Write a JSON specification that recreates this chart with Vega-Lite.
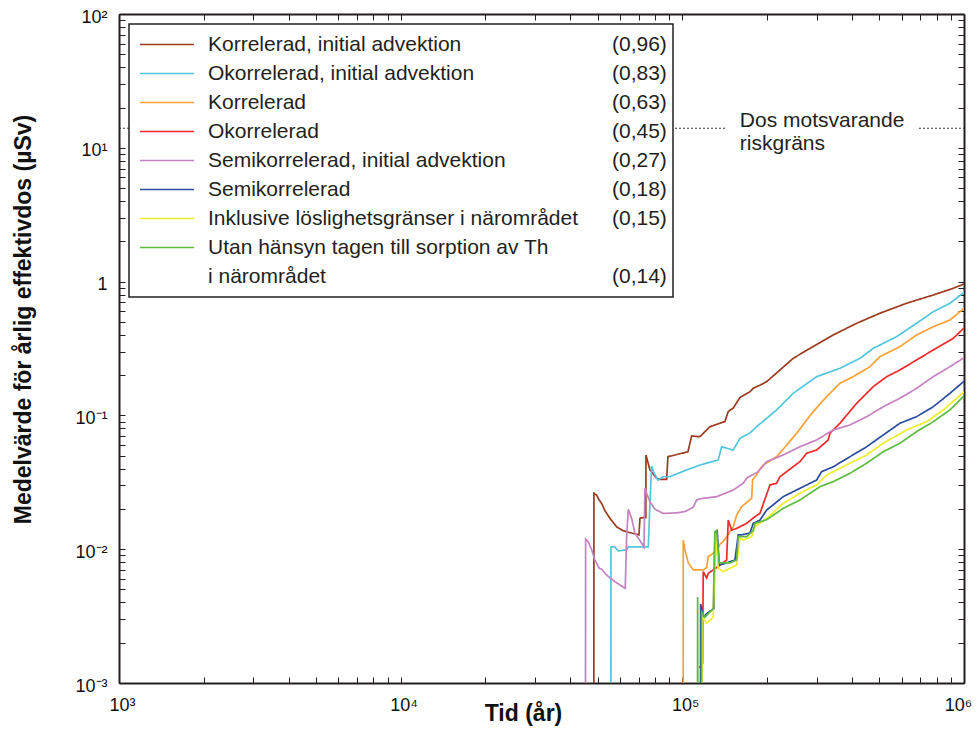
{
  "$schema": "https://vega.github.io/schema/vega-lite/v6.json",
  "width": 845,
  "height": 669,
  "autosize": {"type": "none"},
  "padding": {"left": 119, "top": 14, "right": 16, "bottom": 73},
  "background": "white",
  "config": {"view": {"stroke": null}, "font": "Liberation Sans"},
  "datasets": {
    "doses": [
      {"series": "Korrelerad, initial advektion", "peak": "(0,96)", "t": 48500, "dose": 0.0005},
      {"series": "Korrelerad, initial advektion", "peak": "(0,96)", "t": 48550, "dose": 0.0266},
      {"series": "Korrelerad, initial advektion", "peak": "(0,96)", "t": 48700, "dose": 0.0259},
      {"series": "Korrelerad, initial advektion", "peak": "(0,96)", "t": 49620, "dose": 0.0254},
      {"series": "Korrelerad, initial advektion", "peak": "(0,96)", "t": 50700, "dose": 0.0233},
      {"series": "Korrelerad, initial advektion", "peak": "(0,96)", "t": 51700, "dose": 0.022},
      {"series": "Korrelerad, initial advektion", "peak": "(0,96)", "t": 53110, "dose": 0.0194},
      {"series": "Korrelerad, initial advektion", "peak": "(0,96)", "t": 55340, "dose": 0.017},
      {"series": "Korrelerad, initial advektion", "peak": "(0,96)", "t": 58460, "dose": 0.0147},
      {"series": "Korrelerad, initial advektion", "peak": "(0,96)", "t": 61690, "dose": 0.01375},
      {"series": "Korrelerad, initial advektion", "peak": "(0,96)", "t": 65170, "dose": 0.0133},
      {"series": "Korrelerad, initial advektion", "peak": "(0,96)", "t": 70140, "dose": 0.0128},
      {"series": "Korrelerad, initial advektion", "peak": "(0,96)", "t": 70720, "dose": 0.017},
      {"series": "Korrelerad, initial advektion", "peak": "(0,96)", "t": 72300, "dose": 0.0172},
      {"series": "Korrelerad, initial advektion", "peak": "(0,96)", "t": 74200, "dose": 0.0172},
      {"series": "Korrelerad, initial advektion", "peak": "(0,96)", "t": 74290, "dose": 0.0506},
      {"series": "Korrelerad, initial advektion", "peak": "(0,96)", "t": 76740, "dose": 0.0391},
      {"series": "Korrelerad, initial advektion", "peak": "(0,96)", "t": 81070, "dose": 0.0339},
      {"series": "Korrelerad, initial advektion", "peak": "(0,96)", "t": 83280, "dose": 0.0333},
      {"series": "Korrelerad, initial advektion", "peak": "(0,96)", "t": 87960, "dose": 0.0333},
      {"series": "Korrelerad, initial advektion", "peak": "(0,96)", "t": 88900, "dose": 0.0491},
      {"series": "Korrelerad, initial advektion", "peak": "(0,96)", "t": 94130, "dose": 0.0506},
      {"series": "Korrelerad, initial advektion", "peak": "(0,96)", "t": 104690, "dose": 0.0535},
      {"series": "Korrelerad, initial advektion", "peak": "(0,96)", "t": 107900, "dose": 0.0702},
      {"series": "Korrelerad, initial advektion", "peak": "(0,96)", "t": 115470, "dose": 0.0693},
      {"series": "Korrelerad, initial advektion", "peak": "(0,96)", "t": 121980, "dose": 0.0778},
      {"series": "Korrelerad, initial advektion", "peak": "(0,96)", "t": 125310, "dose": 0.0823},
      {"series": "Korrelerad, initial advektion", "peak": "(0,96)", "t": 141640, "dose": 0.09},
      {"series": "Korrelerad, initial advektion", "peak": "(0,96)", "t": 145550, "dose": 0.107},
      {"series": "Korrelerad, initial advektion", "peak": "(0,96)", "t": 151600, "dose": 0.1135},
      {"series": "Korrelerad, initial advektion", "peak": "(0,96)", "t": 160150, "dose": 0.136},
      {"series": "Korrelerad, initial advektion", "peak": "(0,96)", "t": 173780, "dose": 0.15},
      {"series": "Korrelerad, initial advektion", "peak": "(0,96)", "t": 178520, "dose": 0.1594},
      {"series": "Korrelerad, initial advektion", "peak": "(0,96)", "t": 188590, "dose": 0.1683},
      {"series": "Korrelerad, initial advektion", "peak": "(0,96)", "t": 199210, "dose": 0.1786},
      {"series": "Korrelerad, initial advektion", "peak": "(0,96)", "t": 222070, "dose": 0.2184},
      {"series": "Korrelerad, initial advektion", "peak": "(0,96)", "t": 247560, "dose": 0.267},
      {"series": "Korrelerad, initial advektion", "peak": "(0,96)", "t": 283790, "dose": 0.317},
      {"series": "Korrelerad, initial advektion", "peak": "(0,96)", "t": 343330, "dose": 0.399},
      {"series": "Korrelerad, initial advektion", "peak": "(0,96)", "t": 415730, "dose": 0.488},
      {"series": "Korrelerad, initial advektion", "peak": "(0,96)", "t": 502920, "dose": 0.58},
      {"series": "Korrelerad, initial advektion", "peak": "(0,96)", "t": 625360, "dose": 0.689},
      {"series": "Korrelerad, initial advektion", "peak": "(0,96)", "t": 777600, "dose": 0.794},
      {"series": "Korrelerad, initial advektion", "peak": "(0,96)", "t": 915900, "dose": 0.891},
      {"series": "Korrelerad, initial advektion", "peak": "(0,96)", "t": 1000000, "dose": 0.96},

      {"series": "Okorrelerad, initial advektion", "peak": "(0,83)", "t": 55750, "dose": 0.0005},
      {"series": "Okorrelerad, initial advektion", "peak": "(0,83)", "t": 55800, "dose": 0.0104},
      {"series": "Okorrelerad, initial advektion", "peak": "(0,83)", "t": 57650, "dose": 0.0104},
      {"series": "Okorrelerad, initial advektion", "peak": "(0,83)", "t": 59230, "dose": 0.0097},
      {"series": "Okorrelerad, initial advektion", "peak": "(0,83)", "t": 63430, "dose": 0.0099},
      {"series": "Okorrelerad, initial advektion", "peak": "(0,83)", "t": 64270, "dose": 0.0104},
      {"series": "Okorrelerad, initial advektion", "peak": "(0,83)", "t": 75700, "dose": 0.0104},
      {"series": "Okorrelerad, initial advektion", "peak": "(0,83)", "t": 76740, "dose": 0.0221},
      {"series": "Okorrelerad, initial advektion", "peak": "(0,83)", "t": 77810, "dose": 0.0419},
      {"series": "Okorrelerad, initial advektion", "peak": "(0,83)", "t": 79300, "dose": 0.0371},
      {"series": "Okorrelerad, initial advektion", "peak": "(0,83)", "t": 81930, "dose": 0.0329},
      {"series": "Okorrelerad, initial advektion", "peak": "(0,83)", "t": 85550, "dose": 0.0348},
      {"series": "Okorrelerad, initial advektion", "peak": "(0,83)", "t": 90360, "dose": 0.0348},
      {"series": "Okorrelerad, initial advektion", "peak": "(0,83)", "t": 103580, "dose": 0.0391},
      {"series": "Okorrelerad, initial advektion", "peak": "(0,83)", "t": 115470, "dose": 0.0426},
      {"series": "Okorrelerad, initial advektion", "peak": "(0,83)", "t": 134110, "dose": 0.0464},
      {"series": "Okorrelerad, initial advektion", "peak": "(0,83)", "t": 137880, "dose": 0.0583},
      {"series": "Okorrelerad, initial advektion", "peak": "(0,83)", "t": 151600, "dose": 0.0551},
      {"series": "Okorrelerad, initial advektion", "peak": "(0,83)", "t": 160150, "dose": 0.0674},
      {"series": "Okorrelerad, initial advektion", "peak": "(0,83)", "t": 173780, "dose": 0.0739},
      {"series": "Okorrelerad, initial advektion", "peak": "(0,83)", "t": 183570, "dose": 0.0823},
      {"series": "Okorrelerad, initial advektion", "peak": "(0,83)", "t": 216130, "dose": 0.1098},
      {"series": "Okorrelerad, initial advektion", "peak": "(0,83)", "t": 247560, "dose": 0.1462},
      {"series": "Okorrelerad, initial advektion", "peak": "(0,83)", "t": 299770, "dose": 0.1947},
      {"series": "Okorrelerad, initial advektion", "peak": "(0,83)", "t": 362650, "dose": 0.2249},
      {"series": "Okorrelerad, initial advektion", "peak": "(0,83)", "t": 427080, "dose": 0.267},
      {"series": "Okorrelerad, initial advektion", "peak": "(0,83)", "t": 476100, "dose": 0.317},
      {"series": "Okorrelerad, initial advektion", "peak": "(0,83)", "t": 576250, "dose": 0.3873},
      {"series": "Okorrelerad, initial advektion", "peak": "(0,83)", "t": 678740, "dose": 0.488},
      {"series": "Okorrelerad, initial advektion", "peak": "(0,83)", "t": 777600, "dose": 0.5957},
      {"series": "Okorrelerad, initial advektion", "peak": "(0,83)", "t": 891300, "dose": 0.689},
      {"series": "Okorrelerad, initial advektion", "peak": "(0,83)", "t": 1000000, "dose": 0.83},

      {"series": "Korrelerad", "peak": "(0,63)", "t": 100700, "dose": 0.0005},
      {"series": "Korrelerad", "peak": "(0,63)", "t": 100740, "dose": 0.0117},
      {"series": "Korrelerad", "peak": "(0,63)", "t": 102140, "dose": 0.0099},
      {"series": "Korrelerad", "peak": "(0,63)", "t": 104950, "dose": 0.0079},
      {"series": "Korrelerad", "peak": "(0,63)", "t": 109320, "dose": 0.007},
      {"series": "Korrelerad", "peak": "(0,63)", "t": 118630, "dose": 0.007},
      {"series": "Korrelerad", "peak": "(0,63)", "t": 121980, "dose": 0.0073},
      {"series": "Korrelerad", "peak": "(0,63)", "t": 123590, "dose": 0.0088},
      {"series": "Korrelerad", "peak": "(0,63)", "t": 128730, "dose": 0.0093},
      {"series": "Korrelerad", "peak": "(0,63)", "t": 134110, "dose": 0.0102},
      {"series": "Korrelerad", "peak": "(0,63)", "t": 135990, "dose": 0.0109},
      {"series": "Korrelerad", "peak": "(0,63)", "t": 139700, "dose": 0.0114},
      {"series": "Korrelerad", "peak": "(0,63)", "t": 143650, "dose": 0.0124},
      {"series": "Korrelerad", "peak": "(0,63)", "t": 147570, "dose": 0.0135},
      {"series": "Korrelerad", "peak": "(0,63)", "t": 151600, "dose": 0.0147},
      {"series": "Korrelerad", "peak": "(0,63)", "t": 155890, "dose": 0.018},
      {"series": "Korrelerad", "peak": "(0,63)", "t": 162390, "dose": 0.0208},
      {"series": "Korrelerad", "peak": "(0,63)", "t": 176200, "dose": 0.024},
      {"series": "Korrelerad", "peak": "(0,63)", "t": 177660, "dose": 0.033},
      {"series": "Korrelerad", "peak": "(0,63)", "t": 183570, "dose": 0.036},
      {"series": "Korrelerad", "peak": "(0,63)", "t": 187500, "dose": 0.0391},
      {"series": "Korrelerad", "peak": "(0,63)", "t": 193740, "dose": 0.0426},
      {"series": "Korrelerad", "peak": "(0,63)", "t": 216130, "dose": 0.0491},
      {"series": "Korrelerad", "peak": "(0,63)", "t": 237640, "dose": 0.0619},
      {"series": "Korrelerad", "peak": "(0,63)", "t": 254550, "dose": 0.0735},
      {"series": "Korrelerad", "peak": "(0,63)", "t": 276250, "dose": 0.0924},
      {"series": "Korrelerad", "peak": "(0,63)", "t": 291530, "dose": 0.1066},
      {"series": "Korrelerad", "peak": "(0,63)", "t": 325300, "dose": 0.138},
      {"series": "Korrelerad", "peak": "(0,63)", "t": 362650, "dose": 0.1738},
      {"series": "Korrelerad", "peak": "(0,63)", "t": 404300, "dose": 0.1947},
      {"series": "Korrelerad", "peak": "(0,63)", "t": 463450, "dose": 0.2312},
      {"series": "Korrelerad", "peak": "(0,63)", "t": 502920, "dose": 0.2746},
      {"series": "Korrelerad", "peak": "(0,63)", "t": 591980, "dose": 0.3263},
      {"series": "Korrelerad", "peak": "(0,63)", "t": 678740, "dose": 0.399},
      {"series": "Korrelerad", "peak": "(0,63)", "t": 777600, "dose": 0.4602},
      {"series": "Korrelerad", "peak": "(0,63)", "t": 891300, "dose": 0.5164},
      {"series": "Korrelerad", "peak": "(0,63)", "t": 1000000, "dose": 0.63},

      {"series": "Okorrelerad", "peak": "(0,45)", "t": 115000, "dose": 0.0013},
      {"series": "Okorrelerad", "peak": "(0,45)", "t": 118000, "dose": 0.0014},
      {"series": "Okorrelerad", "peak": "(0,45)", "t": 118630, "dose": 0.0068},
      {"series": "Okorrelerad", "peak": "(0,45)", "t": 121980, "dose": 0.0061},
      {"series": "Okorrelerad", "peak": "(0,45)", "t": 123590, "dose": 0.0066},
      {"series": "Okorrelerad", "peak": "(0,45)", "t": 128730, "dose": 0.007},
      {"series": "Okorrelerad", "peak": "(0,45)", "t": 135990, "dose": 0.0076},
      {"series": "Okorrelerad", "peak": "(0,45)", "t": 143650, "dose": 0.0083},
      {"series": "Okorrelerad", "peak": "(0,45)", "t": 145550, "dose": 0.0165},
      {"series": "Okorrelerad", "peak": "(0,45)", "t": 149620, "dose": 0.0139},
      {"series": "Okorrelerad", "peak": "(0,45)", "t": 155890, "dose": 0.0143},
      {"series": "Okorrelerad", "peak": "(0,45)", "t": 169190, "dose": 0.0156},
      {"series": "Okorrelerad", "peak": "(0,45)", "t": 181020, "dose": 0.0175},
      {"series": "Okorrelerad", "peak": "(0,45)", "t": 188590, "dose": 0.0185},
      {"series": "Okorrelerad", "peak": "(0,45)", "t": 204650, "dose": 0.0302},
      {"series": "Okorrelerad", "peak": "(0,45)", "t": 216130, "dose": 0.0311},
      {"series": "Okorrelerad", "peak": "(0,45)", "t": 222070, "dose": 0.0348},
      {"series": "Okorrelerad", "peak": "(0,45)", "t": 261500, "dose": 0.0451},
      {"series": "Okorrelerad", "peak": "(0,45)", "t": 276250, "dose": 0.0521},
      {"series": "Okorrelerad", "peak": "(0,45)", "t": 299770, "dose": 0.0551},
      {"series": "Okorrelerad", "peak": "(0,45)", "t": 329530, "dose": 0.0655},
      {"series": "Okorrelerad", "peak": "(0,45)", "t": 334200, "dose": 0.0735},
      {"series": "Okorrelerad", "peak": "(0,45)", "t": 362650, "dose": 0.0873},
      {"series": "Okorrelerad", "peak": "(0,45)", "t": 415730, "dose": 0.1231},
      {"series": "Okorrelerad", "peak": "(0,45)", "t": 476100, "dose": 0.1639},
      {"series": "Okorrelerad", "peak": "(0,45)", "t": 531170, "dose": 0.1947},
      {"series": "Okorrelerad", "peak": "(0,45)", "t": 591980, "dose": 0.2184},
      {"series": "Okorrelerad", "peak": "(0,45)", "t": 678740, "dose": 0.2595},
      {"series": "Okorrelerad", "peak": "(0,45)", "t": 777600, "dose": 0.3083},
      {"series": "Okorrelerad", "peak": "(0,45)", "t": 915900, "dose": 0.3769},
      {"series": "Okorrelerad", "peak": "(0,45)", "t": 1000000, "dose": 0.45},

      {"series": "Semikorrelerad, initial advektion", "peak": "(0,27)", "t": 45300, "dose": 0.0005},
      {"series": "Semikorrelerad, initial advektion", "peak": "(0,27)", "t": 45360, "dose": 0.0119},
      {"series": "Semikorrelerad, initial advektion", "peak": "(0,27)", "t": 46340, "dose": 0.0114},
      {"series": "Semikorrelerad, initial advektion", "peak": "(0,27)", "t": 47640, "dose": 0.0099},
      {"series": "Semikorrelerad, initial advektion", "peak": "(0,27)", "t": 48940, "dose": 0.0083},
      {"series": "Semikorrelerad, initial advektion", "peak": "(0,27)", "t": 50700, "dose": 0.0072},
      {"series": "Semikorrelerad, initial advektion", "peak": "(0,27)", "t": 51700, "dose": 0.0071},
      {"series": "Semikorrelerad, initial advektion", "peak": "(0,27)", "t": 53110, "dose": 0.0066},
      {"series": "Semikorrelerad, initial advektion", "peak": "(0,27)", "t": 55340, "dose": 0.0061},
      {"series": "Semikorrelerad, initial advektion", "peak": "(0,27)", "t": 58460, "dose": 0.0056},
      {"series": "Semikorrelerad, initial advektion", "peak": "(0,27)", "t": 62700, "dose": 0.0051},
      {"series": "Semikorrelerad, initial advektion", "peak": "(0,27)", "t": 63430, "dose": 0.0124},
      {"series": "Semikorrelerad, initial advektion", "peak": "(0,27)", "t": 64270, "dose": 0.0199},
      {"series": "Semikorrelerad, initial advektion", "peak": "(0,27)", "t": 66070, "dose": 0.017},
      {"series": "Semikorrelerad, initial advektion", "peak": "(0,27)", "t": 67870, "dose": 0.0132},
      {"series": "Semikorrelerad, initial advektion", "peak": "(0,27)", "t": 71710, "dose": 0.0111},
      {"series": "Semikorrelerad, initial advektion", "peak": "(0,27)", "t": 73080, "dose": 0.0104},
      {"series": "Semikorrelerad, initial advektion", "peak": "(0,27)", "t": 73680, "dose": 0.0285},
      {"series": "Semikorrelerad, initial advektion", "peak": "(0,27)", "t": 75080, "dose": 0.0254},
      {"series": "Semikorrelerad, initial advektion", "peak": "(0,27)", "t": 76740, "dose": 0.0226},
      {"series": "Semikorrelerad, initial advektion", "peak": "(0,27)", "t": 79940, "dose": 0.0199},
      {"series": "Semikorrelerad, initial advektion", "peak": "(0,27)", "t": 85550, "dose": 0.0185},
      {"series": "Semikorrelerad, initial advektion", "peak": "(0,27)", "t": 95460, "dose": 0.0187},
      {"series": "Semikorrelerad, initial advektion", "peak": "(0,27)", "t": 102140, "dose": 0.0191},
      {"series": "Semikorrelerad, initial advektion", "peak": "(0,27)", "t": 109320, "dose": 0.0206},
      {"series": "Semikorrelerad, initial advektion", "peak": "(0,27)", "t": 112400, "dose": 0.0233},
      {"series": "Semikorrelerad, initial advektion", "peak": "(0,27)", "t": 115470, "dose": 0.0238},
      {"series": "Semikorrelerad, initial advektion", "peak": "(0,27)", "t": 132360, "dose": 0.0247},
      {"series": "Semikorrelerad, initial advektion", "peak": "(0,27)", "t": 151600, "dose": 0.0277},
      {"series": "Semikorrelerad, initial advektion", "peak": "(0,27)", "t": 164540, "dose": 0.0311},
      {"series": "Semikorrelerad, initial advektion", "peak": "(0,27)", "t": 169190, "dose": 0.0339},
      {"series": "Semikorrelerad, initial advektion", "peak": "(0,27)", "t": 185960, "dose": 0.038},
      {"series": "Semikorrelerad, initial advektion", "peak": "(0,27)", "t": 199210, "dose": 0.0451},
      {"series": "Semikorrelerad, initial advektion", "peak": "(0,27)", "t": 228130, "dose": 0.0506},
      {"series": "Semikorrelerad, initial advektion", "peak": "(0,27)", "t": 261500, "dose": 0.0583},
      {"series": "Semikorrelerad, initial advektion", "peak": "(0,27)", "t": 299770, "dose": 0.0655},
      {"series": "Semikorrelerad, initial advektion", "peak": "(0,27)", "t": 343330, "dose": 0.0778},
      {"series": "Semikorrelerad, initial advektion", "peak": "(0,27)", "t": 393550, "dose": 0.0848},
      {"series": "Semikorrelerad, initial advektion", "peak": "(0,27)", "t": 451140, "dose": 0.0978},
      {"series": "Semikorrelerad, initial advektion", "peak": "(0,27)", "t": 516660, "dose": 0.1161},
      {"series": "Semikorrelerad, initial advektion", "peak": "(0,27)", "t": 591980, "dose": 0.1342},
      {"series": "Semikorrelerad, initial advektion", "peak": "(0,27)", "t": 678740, "dose": 0.1594},
      {"series": "Semikorrelerad, initial advektion", "peak": "(0,27)", "t": 777600, "dose": 0.1947},
      {"series": "Semikorrelerad, initial advektion", "peak": "(0,27)", "t": 891300, "dose": 0.2312},
      {"series": "Semikorrelerad, initial advektion", "peak": "(0,27)", "t": 1000000, "dose": 0.27},

      {"series": "Semikorrelerad", "peak": "(0,18)", "t": 116000, "dose": 0.0005},
      {"series": "Semikorrelerad", "peak": "(0,18)", "t": 116140, "dose": 0.0039},
      {"series": "Semikorrelerad", "peak": "(0,18)", "t": 118630, "dose": 0.0031},
      {"series": "Semikorrelerad", "peak": "(0,18)", "t": 121980, "dose": 0.0033},
      {"series": "Semikorrelerad", "peak": "(0,18)", "t": 129470, "dose": 0.0036},
      {"series": "Semikorrelerad", "peak": "(0,18)", "t": 130520, "dose": 0.0132},
      {"series": "Semikorrelerad", "peak": "(0,18)", "t": 133000, "dose": 0.0137},
      {"series": "Semikorrelerad", "peak": "(0,18)", "t": 135210, "dose": 0.0076},
      {"series": "Semikorrelerad", "peak": "(0,18)", "t": 143650, "dose": 0.0079},
      {"series": "Semikorrelerad", "peak": "(0,18)", "t": 153720, "dose": 0.0083},
      {"series": "Semikorrelerad", "peak": "(0,18)", "t": 157930, "dose": 0.0128},
      {"series": "Semikorrelerad", "peak": "(0,18)", "t": 162390, "dose": 0.0128},
      {"series": "Semikorrelerad", "peak": "(0,18)", "t": 173780, "dose": 0.0132},
      {"series": "Semikorrelerad", "peak": "(0,18)", "t": 178520, "dose": 0.0156},
      {"series": "Semikorrelerad", "peak": "(0,18)", "t": 188590, "dose": 0.0165},
      {"series": "Semikorrelerad", "peak": "(0,18)", "t": 199210, "dose": 0.0196},
      {"series": "Semikorrelerad", "peak": "(0,18)", "t": 228130, "dose": 0.0247},
      {"series": "Semikorrelerad", "peak": "(0,18)", "t": 261500, "dose": 0.0285},
      {"series": "Semikorrelerad", "peak": "(0,18)", "t": 299770, "dose": 0.0329},
      {"series": "Semikorrelerad", "peak": "(0,18)", "t": 312240, "dose": 0.038},
      {"series": "Semikorrelerad", "peak": "(0,18)", "t": 343330, "dose": 0.0413},
      {"series": "Semikorrelerad", "peak": "(0,18)", "t": 393550, "dose": 0.0491},
      {"series": "Semikorrelerad", "peak": "(0,18)", "t": 451140, "dose": 0.0583},
      {"series": "Semikorrelerad", "peak": "(0,18)", "t": 516660, "dose": 0.0714},
      {"series": "Semikorrelerad", "peak": "(0,18)", "t": 591980, "dose": 0.0873},
      {"series": "Semikorrelerad", "peak": "(0,18)", "t": 678740, "dose": 0.0978},
      {"series": "Semikorrelerad", "peak": "(0,18)", "t": 777600, "dose": 0.1161},
      {"series": "Semikorrelerad", "peak": "(0,18)", "t": 891300, "dose": 0.1462},
      {"series": "Semikorrelerad", "peak": "(0,18)", "t": 1000000, "dose": 0.18},

      {"series": "Inklusive löslighetsgränser i närområdet", "peak": "(0,15)", "t": 117000, "dose": 0.0005},
      {"series": "Inklusive löslighetsgränser i närområdet", "peak": "(0,15)", "t": 118050, "dose": 0.0031},
      {"series": "Inklusive löslighetsgränser i närområdet", "peak": "(0,15)", "t": 121980, "dose": 0.0028},
      {"series": "Inklusive löslighetsgränser i närområdet", "peak": "(0,15)", "t": 128730, "dose": 0.0031},
      {"series": "Inklusive löslighetsgränser i närområdet", "peak": "(0,15)", "t": 131270, "dose": 0.0132},
      {"series": "Inklusive löslighetsgränser i närområdet", "peak": "(0,15)", "t": 134110, "dose": 0.0072},
      {"series": "Inklusive löslighetsgränser i närområdet", "peak": "(0,15)", "t": 139700, "dose": 0.0068},
      {"series": "Inklusive löslighetsgränser i närområdet", "peak": "(0,15)", "t": 155890, "dose": 0.0076},
      {"series": "Inklusive löslighetsgränser i närområdet", "peak": "(0,15)", "t": 160150, "dose": 0.0121},
      {"series": "Inklusive löslighetsgränser i närområdet", "peak": "(0,15)", "t": 164540, "dose": 0.0117},
      {"series": "Inklusive löslighetsgränser i närområdet", "peak": "(0,15)", "t": 176200, "dose": 0.0124},
      {"series": "Inklusive löslighetsgränser i närområdet", "peak": "(0,15)", "t": 181020, "dose": 0.0147},
      {"series": "Inklusive löslighetsgränser i närområdet", "peak": "(0,15)", "t": 199210, "dose": 0.017},
      {"series": "Inklusive löslighetsgränser i närområdet", "peak": "(0,15)", "t": 228130, "dose": 0.022},
      {"series": "Inklusive löslighetsgränser i närområdet", "peak": "(0,15)", "t": 261500, "dose": 0.0262},
      {"series": "Inklusive löslighetsgränser i närområdet", "peak": "(0,15)", "t": 299770, "dose": 0.0302},
      {"series": "Inklusive löslighetsgränser i närområdet", "peak": "(0,15)", "t": 325300, "dose": 0.0358},
      {"series": "Inklusive löslighetsgränser i närområdet", "peak": "(0,15)", "t": 393550, "dose": 0.0439},
      {"series": "Inklusive löslighetsgränser i närområdet", "peak": "(0,15)", "t": 451140, "dose": 0.0506},
      {"series": "Inklusive löslighetsgränser i närområdet", "peak": "(0,15)", "t": 516660, "dose": 0.0619},
      {"series": "Inklusive löslighetsgränser i närområdet", "peak": "(0,15)", "t": 625360, "dose": 0.0778},
      {"series": "Inklusive löslighetsgränser i närområdet", "peak": "(0,15)", "t": 736710, "dose": 0.0897},
      {"series": "Inklusive löslighetsgränser i närområdet", "peak": "(0,15)", "t": 844000, "dose": 0.1098},
      {"series": "Inklusive löslighetsgränser i närområdet", "peak": "(0,15)", "t": 1000000, "dose": 0.15},

      {"series": "Utan hänsyn tagen till sorption av Th", "peak": "(0,14)", "t": 113200, "dose": 0.0005},
      {"series": "Utan hänsyn tagen till sorption av Th", "peak": "(0,14)", "t": 113310, "dose": 0.0044},
      {"series": "Utan hänsyn tagen till sorption av Th", "peak": "(0,14)", "t": 113600, "dose": 0.0005},
      {"series": "Utan hänsyn tagen till sorption av Th", "peak": "(0,14)", "t": 117000, "dose": 0.0005},
      {"series": "Utan hänsyn tagen till sorption av Th", "peak": "(0,14)", "t": 117080, "dose": 0.0034},
      {"series": "Utan hänsyn tagen till sorption av Th", "peak": "(0,14)", "t": 120280, "dose": 0.0031},
      {"series": "Utan hänsyn tagen till sorption av Th", "peak": "(0,14)", "t": 128730, "dose": 0.0036},
      {"series": "Utan hänsyn tagen till sorption av Th", "peak": "(0,14)", "t": 130520, "dose": 0.0135},
      {"series": "Utan hänsyn tagen till sorption av Th", "peak": "(0,14)", "t": 132360, "dose": 0.0138},
      {"series": "Utan hänsyn tagen till sorption av Th", "peak": "(0,14)", "t": 135210, "dose": 0.0079},
      {"series": "Utan hänsyn tagen till sorption av Th", "peak": "(0,14)", "t": 147570, "dose": 0.0079},
      {"series": "Utan hänsyn tagen till sorption av Th", "peak": "(0,14)", "t": 155890, "dose": 0.0083},
      {"series": "Utan hänsyn tagen till sorption av Th", "peak": "(0,14)", "t": 157930, "dose": 0.0124},
      {"series": "Utan hänsyn tagen till sorption av Th", "peak": "(0,14)", "t": 169190, "dose": 0.0124},
      {"series": "Utan hänsyn tagen till sorption av Th", "peak": "(0,14)", "t": 178520, "dose": 0.0138},
      {"series": "Utan hänsyn tagen till sorption av Th", "peak": "(0,14)", "t": 181020, "dose": 0.0156},
      {"series": "Utan hänsyn tagen till sorption av Th", "peak": "(0,14)", "t": 199210, "dose": 0.0166},
      {"series": "Utan hänsyn tagen till sorption av Th", "peak": "(0,14)", "t": 228130, "dose": 0.0202},
      {"series": "Utan hänsyn tagen till sorption av Th", "peak": "(0,14)", "t": 261500, "dose": 0.0233},
      {"series": "Utan hänsyn tagen till sorption av Th", "peak": "(0,14)", "t": 307950, "dose": 0.0293},
      {"series": "Utan hänsyn tagen till sorption av Th", "peak": "(0,14)", "t": 343330, "dose": 0.032},
      {"series": "Utan hänsyn tagen till sorption av Th", "peak": "(0,14)", "t": 393550, "dose": 0.0369},
      {"series": "Utan hänsyn tagen till sorption av Th", "peak": "(0,14)", "t": 451140, "dose": 0.0439},
      {"series": "Utan hänsyn tagen till sorption av Th", "peak": "(0,14)", "t": 516660, "dose": 0.0535},
      {"series": "Utan hänsyn tagen till sorption av Th", "peak": "(0,14)", "t": 591980, "dose": 0.0619},
      {"series": "Utan hänsyn tagen till sorption av Th", "peak": "(0,14)", "t": 678740, "dose": 0.0756},
      {"series": "Utan hänsyn tagen till sorption av Th", "peak": "(0,14)", "t": 777600, "dose": 0.0897},
      {"series": "Utan hänsyn tagen till sorption av Th", "peak": "(0,14)", "t": 891300, "dose": 0.1098},
      {"series": "Utan hänsyn tagen till sorption av Th", "peak": "(0,14)", "t": 1000000, "dose": 0.14}
    ]
  },
  "layer": [
    {
      "data": {"name": "doses"},
      "mark": {"type": "line", "clip": true, "strokeWidth": 1.7},
      "encoding": {
        "x": {
          "field": "t", "type": "quantitative",
          "scale": {"type": "log", "domain": [1000, 1000000], "nice": false},
          "axis": {
            "orient": "bottom",
            "values": [1000, 2000, 3000, 4000, 5000, 6000, 7000, 8000, 9000, 10000, 20000, 30000, 40000, 50000, 60000, 70000, 80000, 90000, 100000, 200000, 300000, 400000, 500000, 600000, 700000, 800000, 900000, 1000000],
            "labelExpr": "datum.value == 1000 ? '10³' : datum.value == 10000 ? '10⁴' : datum.value == 100000 ? '10⁵' : datum.value == 1000000 ? '10⁶' : ''",
            "labelFontSize": 18, "labelFont": "Liberation Sans", "labelColor": "#111111",
            "labelPadding": 19,
            "labelOffset": {"condition": {"test": "datum.value == 1000000", "value": -6}, "value": 3},
            "labelOverlap": false, "labelFlush": false, "labelBound": false,
            "tickSize": -6, "tickColor": "#231f20", "tickWidth": 1,
            "domainColor": "#231f20", "domainWidth": 2,
            "grid": false,
            "title": "Tid (år)", "titleFont": "Liberation Sans", "titleFontSize": 23, "titleFontWeight": "bold", "titleColor": "#111111",
            "titleX": 404, "titleY": 30, "titleBaseline": "middle", "titleAlign": "center", "titleAnchor": null
          }
        },
        "y": {
          "field": "dose", "type": "quantitative",
          "scale": {"type": "log", "domain": [0.001, 100], "nice": false},
          "axis": {
            "orient": "left",
            "values": [0.001, 0.002, 0.003, 0.004, 0.005, 0.006, 0.007, 0.008, 0.009, 0.01, 0.02, 0.03, 0.04, 0.05, 0.06, 0.07, 0.08, 0.09, 0.1, 0.2, 0.3, 0.4, 0.5, 0.6, 0.7, 0.8, 0.9, 1, 2, 3, 4, 5, 6, 7, 8, 9, 10, 20, 30, 40, 50, 60, 70, 80, 90, 100],
            "labelExpr": "datum.value == 100 ? '10²' : datum.value == 10 ? '10¹' : datum.value == 1 ? '1' : datum.value == 0.1 ? '10⁻¹' : datum.value == 0.01 ? '10⁻²' : datum.value == 0.001 ? '10⁻³' : ''",
            "labelFontSize": 18, "labelFont": "Liberation Sans", "labelColor": "#111111",
            "labelPadding": 18, "labelOffset": 3,
            "labelOverlap": false, "labelFlush": false, "labelBound": false,
            "tickSize": -6, "tickColor": "#231f20", "tickWidth": 1,
            "domainColor": "#231f20", "domainWidth": 2,
            "grid": false,
            "title": "Medelvärde för årlig effektivdos (µSv)", "titleFont": "Liberation Sans", "titleFontSize": 23, "titleFontWeight": "bold", "titleColor": "#111111",
            "titleAngle": 270, "titleX": -96, "titleY": 305, "titleBaseline": "middle", "titleAlign": "center", "titleAnchor": null
          }
        },
        "color": {
          "field": "series", "type": "nominal",
          "scale": {
            "domain": ["Korrelerad, initial advektion", "Okorrelerad, initial advektion", "Korrelerad", "Okorrelerad", "Semikorrelerad, initial advektion", "Semikorrelerad", "Inklusive löslighetsgränser i närområdet", "Utan hänsyn tagen till sorption av Th", "i närområdet"],
            "range": ["#9b3b1f", "#52c6db", "#f9a136", "#ee2a2a", "#c681c0", "#2b4c9f", "#eeee28", "#5cba3e", "transparent"]
          },
          "legend": {
            "orient": "none", "legendX": 10, "legendY": 10, "direction": "vertical",
            "title": null, "padding": 6, "clipHeight": 29, "rowPadding": 0,
            "symbolType": "stroke", "symbolSize": 2916, "symbolStrokeWidth": 1.5, "symbolOffset": 4,
            "labelOffset": 13, "labelFontSize": 21, "labelFont": "Liberation Sans", "labelColor": "#231f20", "labelLimit": 600,
            "zindex": 2
          }
        },
        "strokeDash": {
          "field": "peak", "type": "nominal",
          "scale": {
            "domain": ["(0,96)", "(0,83)", "(0,63)", "(0,45)", "(0,27)", "(0,18)", "(0,15)", " ", "(0,14)"],
            "range": [[1, 0], [1, 0], [1, 0], [1, 0], [1, 0], [1, 0], [1, 0], [1, 0], [1, 0]]
          },
          "legend": {
            "orient": "none", "legendX": 10, "legendY": 10, "direction": "vertical",
            "title": null, "padding": 6, "clipHeight": 29, "rowPadding": 0,
            "symbolType": "stroke", "symbolSize": 220900, "symbolOpacity": 0,
            "labelOffset": 5, "labelFontSize": 21, "labelFont": "Liberation Sans", "labelColor": "#231f20", "labelLimit": 600,
            "fillColor": "white", "strokeColor": "#231f20",
            "encode": {"legend": {"update": {"strokeWidth": {"value": 1.5}}}},
            "zindex": 1
          }
        }
      }
    },
    {
      "data": {"values": [{}]},
      "mark": {"type": "rule", "strokeDash": [2, 2], "color": "#333333", "strokeWidth": 1},
      "encoding": {
        "x": {
          "datum": 1000, "type": "quantitative", "scale": {"type": "log"},
          "axis": {
            "orient": "top",
            "values": [1000, 2000, 3000, 4000, 5000, 6000, 7000, 8000, 9000, 10000, 20000, 30000, 40000, 50000, 60000, 70000, 80000, 90000, 100000, 200000, 300000, 400000, 500000, 600000, 700000, 800000, 900000, 1000000],
            "labels": false, "title": null, "grid": false,
            "tickSize": -6, "tickColor": "#231f20", "tickWidth": 1,
            "domainColor": "#231f20", "domainWidth": 2
          }
        },
        "x2": {"datum": 142800},
        "y": {
          "datum": 14, "type": "quantitative", "scale": {"type": "log"},
          "axis": {
            "orient": "right",
            "values": [0.001, 0.002, 0.003, 0.004, 0.005, 0.006, 0.007, 0.008, 0.009, 0.01, 0.02, 0.03, 0.04, 0.05, 0.06, 0.07, 0.08, 0.09, 0.1, 0.2, 0.3, 0.4, 0.5, 0.6, 0.7, 0.8, 0.9, 1, 2, 3, 4, 5, 6, 7, 8, 9, 10, 20, 30, 40, 50, 60, 70, 80, 90, 100],
            "labels": false, "title": null, "grid": false,
            "tickSize": -6, "tickColor": "#231f20", "tickWidth": 1,
            "domainColor": "#231f20", "domainWidth": 2
          }
        }
      }
    },
    {
      "data": {"values": [{}]},
      "mark": {"type": "rule", "strokeDash": [2, 2], "color": "#333333", "strokeWidth": 1},
      "encoding": {
        "x": {"datum": 692000, "type": "quantitative", "scale": {"type": "log"}, "axis": null},
        "x2": {"datum": 1000000},
        "y": {"datum": 14, "type": "quantitative", "scale": {"type": "log"}, "axis": null}
      }
    },
    {
      "data": {"values": [{}]},
      "mark": {"type": "text", "align": "left", "baseline": "middle", "fontSize": 21, "lineHeight": 23, "font": "Liberation Sans", "color": "#231f20"},
      "encoding": {
        "x": {"datum": 160000, "type": "quantitative", "scale": {"type": "log"}, "axis": null},
        "y": {"datum": 15.9, "type": "quantitative", "scale": {"type": "log"}, "axis": null},
        "text": {"value": ["Dos motsvarande", "riskgräns"]}
      }
    }
  ],
  "resolve": {"axis": {"x": "independent", "y": "independent"}}
}
